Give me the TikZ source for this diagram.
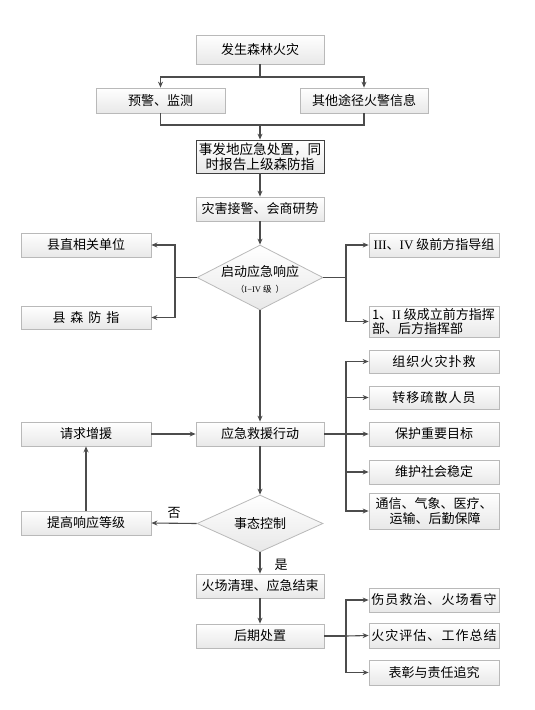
\documentclass[tikz,border=0pt]{standalone}
\usepackage{fontspec}
\setmainfont{Noto Sans CJK SC}
\newfontfamily\romfont{Liberation Serif}
\newfontfamily\widefont[LetterSpace=8]{Noto Sans CJK SC}
\usetikzlibrary{shapes.geometric,arrows.meta,shadows}
\tikzset{
  boxnode/.style={draw=gray!55, top color=white, bottom color=gray!18, line width=0.8pt,
    inner sep=0pt, align=center, font=\fontsize{13}{15}\selectfont,
    drop shadow={shadow xshift=1.2pt, shadow yshift=-1.2pt, opacity=0.25, fill=gray}},
  widebox/.style={boxnode, font=\widefont\fontsize{13}{15}\selectfont},
  decnode/.style={diamond, draw=gray!55, top color=white, bottom color=gray!18, line width=0.8pt,
    inner sep=0pt, minimum width=126pt},
  conn/.style={draw=black!70, line width=1.1pt},
  arr/.style={conn, -{Stealth[length=6pt,width=5pt]}},
  lab/.style={font=\fontsize{13}{15}\selectfont, inner sep=0pt}
}
\begin{document}
\begin{tikzpicture}[x=1pt,y=-1pt]
\useasboundingbox (0,0) rectangle (535,710);
% main column
\node[boxnode, minimum width=128pt, minimum height=29pt] (n1) at (260,49.5) {发生森林火灾};
\node[boxnode, minimum width=129pt, minimum height=25pt] (n2) at (160.5,100.5) {预警、监测};
\node[boxnode, minimum width=128pt, minimum height=25pt] (n3) at (364,100.5) {其他途径火警信息};
\node[boxnode, draw=black!75, minimum width=128pt, minimum height=33pt, font=\fontsize{13.6}{15}\selectfont] (n4) at (260,156.5) {事发地应急处置，同\\时报告上级森防指};
\node[boxnode, minimum width=128pt, minimum height=24pt] (n5) at (260,209) {灾害接警、会商研势};
\node[decnode, minimum height=65pt,
  label={[lab, align=center, yshift=-2pt]center:启动应急响应\\[1pt]{\fontsize{8.5}{10}\selectfont （\romfont I−IV\ \rmfamily 级\ \ ）}}] (d1) at (260,277.5) {};
\node[boxnode, minimum width=130pt, minimum height=24pt] (l1) at (86,245) {县直相关单位};
\node[boxnode, minimum width=130pt, minimum height=23pt] (l2) at (86,317.5) {县\hspace{5pt}森\hspace{5pt}防\hspace{5pt}指};
\node[boxnode, minimum width=130pt, minimum height=24pt] (r1) at (434,245) {{\romfont III}、{\romfont IV} 级前方指导组};
\node[boxnode, minimum width=130pt, minimum height=31pt, align=left, font=\fontsize{13}{14.5}\selectfont] (r2) at (434,321.5) {\makebox[124pt][l]{1、{\romfont II} 级成立前方指挥}\\部、后方指挥部};
\node[boxnode, minimum width=128pt, minimum height=24pt] (act) at (260,434) {应急救援行动};
\node[boxnode, minimum width=130pt, minimum height=24pt] (req) at (86,434) {请求增援};
\node[widebox, minimum width=130pt, minimum height=23pt] (a1) at (434,361.5) {组织火灾扑救};
\node[widebox, minimum width=130pt, minimum height=23pt] (a2) at (434,397.5) {转移疏散人员};
\node[boxnode, minimum width=130pt, minimum height=24pt] (a3) at (434,434) {保护重要目标};
\node[boxnode, minimum width=130pt, minimum height=24pt] (a4) at (434,472) {维护社会稳定};
\node[boxnode, minimum width=130pt, minimum height=36pt, align=left, font=\fontsize{13}{14.5}\selectfont] (a5) at (434,511) {通信、气象、医疗、\\\hspace{14pt}运输、后勤保障};
\node[decnode, minimum height=57pt, label={[lab]center:事态控制}] (d2) at (260,523.5) {};
\node[boxnode, minimum width=130pt, minimum height=24pt] (up) at (86,523) {提高响应等级};
\node[boxnode, minimum width=128pt, minimum height=24pt] (clean) at (260,586) {火场清理、应急结束};
\node[boxnode, minimum width=128pt, minimum height=24pt] (post) at (260,636) {后期处置};
\node[widebox, minimum width=130pt, minimum height=24pt] (p1) at (434,600) {伤员救治、火场看守};
\node[widebox, minimum width=130pt, minimum height=25pt] (p2) at (434,635.5) {火灾评估、工作总结};
\node[boxnode, minimum width=130pt, minimum height=25pt] (p3) at (434,672.5) {表彰与责任追究};
% junction coordinates
\coordinate (j1) at (260,77);
\coordinate (j2) at (260,125);
\coordinate (jl) at (175,277.5);
\coordinate (jr) at (346,277.5);
\coordinate (ja) at (346,434);
\coordinate (jp) at (346,636);
% connectors
\draw[conn] (n1.south) -- (j1);
\draw[arr] (j1) -| (n2.north);
\draw[arr] (j1) -| (n3.north);
\draw[conn] (n2.south) |- (j2);
\draw[conn] (n3.south) |- (j2);
\draw[arr] (j2) -- (n4.north);
\draw[arr] (n4.south) -- (n5.north);
\draw[arr] (n5.south) -- (d1.north);
\draw[conn] (d1.west) -- (jl);
\draw[arr] (jl) |- (l1.east);
\draw[arr] (jl) |- (l2.east);
\draw[conn] (d1.east) -- (jr);
\draw[arr] (jr) |- (r1.west);
\draw[arr] (jr) |- (r2.west);
\draw[arr] (d1.south) -- (act.north);
\draw[arr] (req.east) -- (act.west);
\draw[conn] (act.east) -- (ja);
\draw[arr] (ja) |- (a1.west);
\draw[arr] (ja) |- (a2.west);
\draw[arr] (ja) -- (a3.west);
\draw[arr] (ja) |- (a4.west);
\draw[arr] (ja) |- (a5.west);
\draw[arr] (act.south) -- (d2.north);
\draw[arr] (d2.west) -- node[lab, above, yshift=4pt] {否} (up.east);
\draw[arr] (up.north) -- (req.south);
\draw[arr] (d2.south) -- node[lab, right, xshift=14pt, yshift=-2pt] {是} (clean.north);
\draw[arr] (clean.south) -- (post.north);
\draw[conn] (post.east) -- (jp);
\draw[arr] (jp) |- (p1.west);
\draw[arr] (jp) -- (p2.west);
\draw[arr] (jp) |- (p3.west);
\end{tikzpicture}
\end{document}
